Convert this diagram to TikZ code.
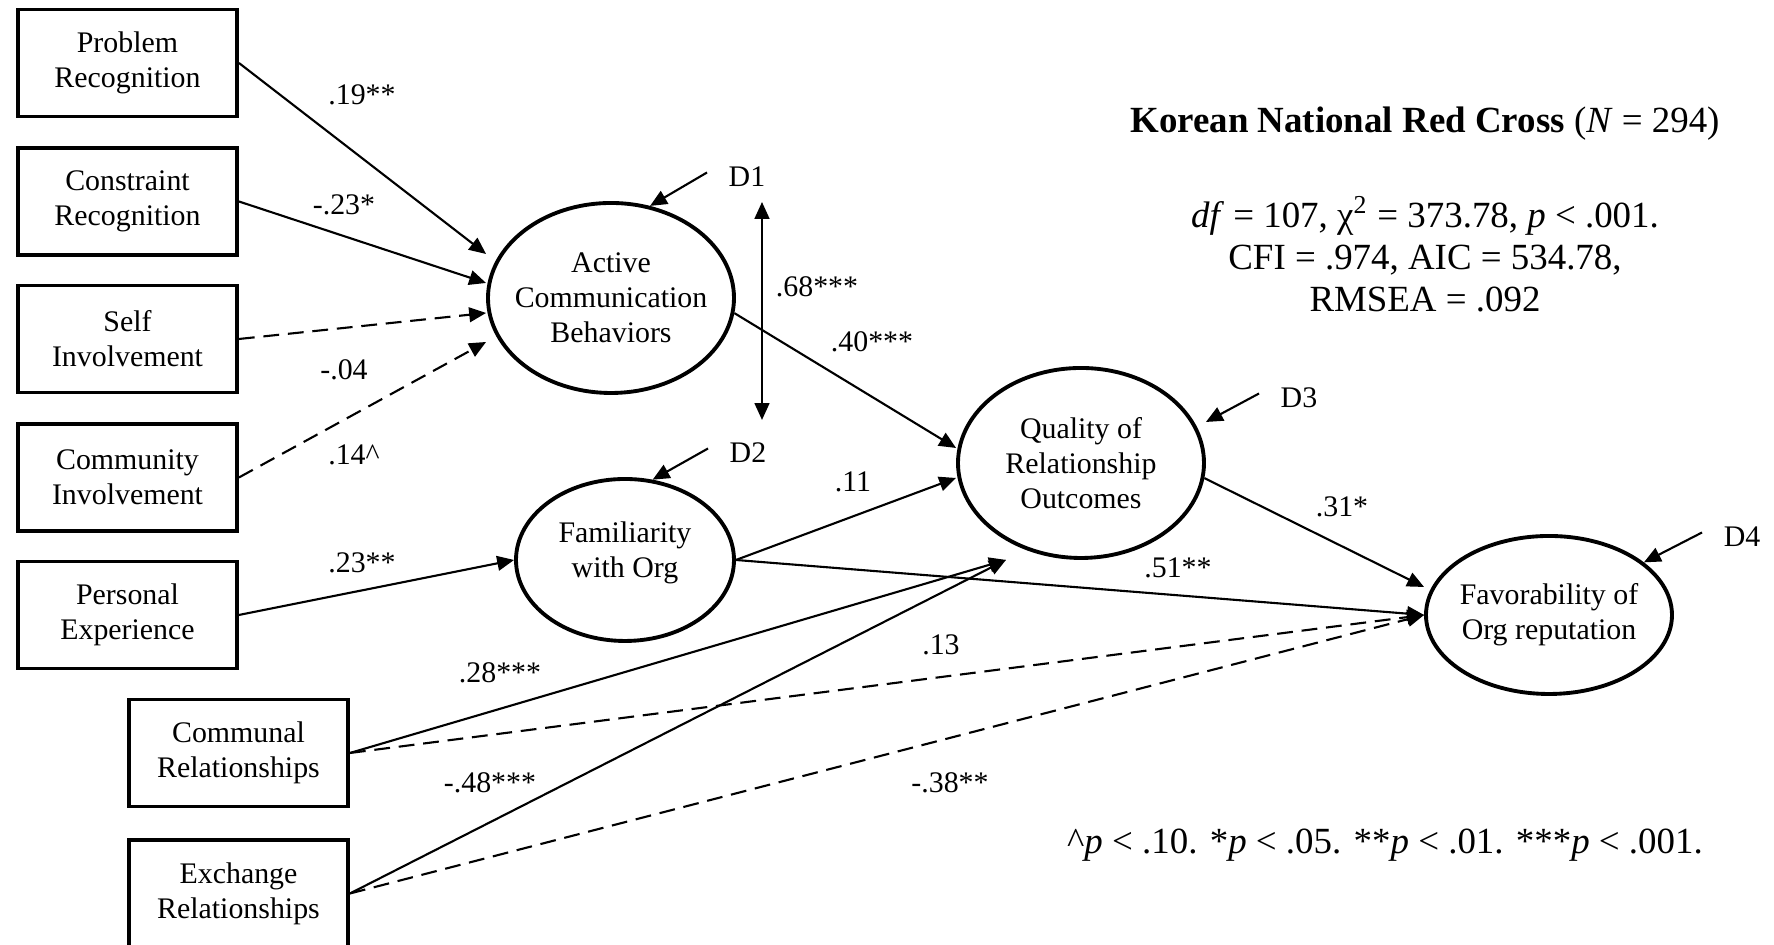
\documentclass[tikz,border=0pt]{standalone}
\usepackage{fontspec}
\setmainfont{Liberation Serif}
\usetikzlibrary{shapes.geometric,arrows.meta}

\begin{document}
\begin{tikzpicture}[x=1cm,y=1cm,>={Triangle[length=4.8pt,width=4.2pt]},
  font=\fontsize{8.5}{10}\selectfont,
  obs/.style={draw,line width=1.1pt,minimum width=2.19cm,minimum height=1.07cm,
    inner sep=0pt,align=center},
  lat/.style={draw,ellipse,line width=1.1pt,inner sep=0pt,
    minimum width=2.46cm,minimum height=1.9cm},
  lattext/.style={align=center,inner sep=0pt},
  eff/.style={->,line width=0.6pt},
  nseff/.style={eff,dash pattern=on 4.5pt off 2.5pt},
  coef/.style={inner sep=0pt},
  dlab/.style={inner sep=0pt},
  bigtext/.style={font=\fontsize{10.5}{12}\selectfont,inner sep=0pt}]
 \useasboundingbox (0,0) rectangle (17.74,9.45);

 % observed variables
 \node[obs] (pr) at (1.275,8.82) {Problem\\Recognition};
 \node[obs] (cr) at (1.275,7.435) {Constraint\\Recognition};
 \node[obs] (si) at (1.275,6.06) {Self\\Involvement};
 \node[obs] (ci) at (1.275,4.675) {Community\\Involvement};
 \node[obs] (pe) at (1.275,3.30) {Personal\\Experience};
 \node[obs] (comm) at (2.385,1.92) {Communal\\Relationships};
 \node[obs] (exch) at (2.385,0.515) {Exchange\\Relationships};

 % latent variables
 \node[lat,label={[lattext]center:Active\\Communication\\Behaviors}] (acb) at (6.11,6.47) {};
 \node[lat,minimum width=2.18cm,minimum height=1.62cm,
   label={[lattext,yshift=0.07cm]center:Familiarity\\with Org}] (fam) at (6.25,3.85) {};
 \node[lat,label={[lattext]center:Quality of\\Relationship\\Outcomes}] (qual) at (10.81,4.82) {};
 \node[lat,minimum height=1.58cm,
   label={[lattext]center:Favorability of\\Org reputation}] (fav) at (15.49,3.30) {};

 % disturbances
 \node[dlab] (d1) at (7.47,7.68) {D1};
 \node[dlab] (d2) at (7.48,4.92) {D2};
 \node[dlab] (d3) at (12.99,5.47) {D3};
 \node[dlab] (d4) at (17.42,4.08) {D4};
 \foreach \d/\e/\a in {d1/acb/67,d2/fam/71,d4/fav/29}
   {\draw[eff] ([shift={(-0.21,0.045)}]\d.west) -- (\e.\a);}
 \draw[eff] ([shift={(-0.21,0.045)}]d3.west) -- ([yshift=0.41cm]qual.east);
 \coordinate (rtop) at (7.62,7.43);
 \coordinate (rbot) at (7.62,5.25);
 \draw[eff,<->] (rtop) -- (rbot);

 % structural paths
 \draw[eff] (pr.east) -- ([yshift=0.44cm]acb.west);
 \draw[eff] (cr.east) -- ([yshift=0.15cm]acb.west);
 \draw[nseff] (si.east) -- ([yshift=-0.15cm]acb.west);
 \draw[nseff] (ci.east) -- ([yshift=-0.44cm]acb.west);
 \draw[eff] (pe.east) -- (fam.west);
 \draw[eff] (acb.-7) -- ([yshift=0.15cm]qual.west);
 \draw[eff] (fam.east) -- ([yshift=-0.15cm]qual.west);
 \draw[eff] (fam.east) -- (fav.west);
 \draw[eff] (qual.-7) -- ([yshift=0.28cm]fav.west);
 \draw[eff] (comm.east) -- ([xshift=-0.75cm]qual.south);
 \draw[eff] (exch.east) -- ([xshift=-0.75cm]qual.south);
 \draw[nseff] (comm.east) -- (fav.west);
 \draw[nseff] (exch.east) -- (fav.west);

 % coefficients
 \node[coef] (b-pr) at (3.62,8.50) {.19**};
 \node[coef] (b-cr) at (3.44,7.40) {-.23*};
 \node[coef] (b-si) at (3.44,5.75) {-.04};
 \node[coef] (b-ci) at (3.54,4.90) {.14\textasciicircum};
 \node[coef] (b-pe) at (3.62,3.82) {.23**};
 \node[coef] (r-d) at (8.17,6.58) {.68***};
 \node[coef] (b-acb) at (8.72,6.03) {.40***};
 \node[coef] (b-famq) at (8.53,4.63) {.11};
 \node[coef] (b-commq) at (5.00,2.72) {.28***};
 \node[coef] (b-commf) at (9.41,3.00) {.13};
 \node[coef] (b-exchq) at (4.90,1.62) {-.48***};
 \node[coef] (b-exchf) at (9.50,1.62) {-.38**};
 \node[coef] (b-famf) at (11.78,3.77) {.51**};
 \node[coef] (b-qual) at (13.42,4.38) {.31*};

 % sample and fit
 \node[bigtext] (title) at (14.25,8.21)
   {\textbf{Korean National Red Cross} (\textit{N} = 294)};
 \node[bigtext,align=center] (fit) at (14.25,6.91)
   {\textit{df} = 107, χ\textsuperscript{2} = 373.78, \textit{p} < .001.\\
    CFI = .974, AIC = 534.78,\\RMSEA = .092};
 \node[bigtext] (note) at (13.85,1.00)
   {\textasciicircum\textit{p} < .10. *\textit{p} < .05. **\textit{p} < .01. ***\textit{p} < .001.};
\end{tikzpicture}
\end{document}
